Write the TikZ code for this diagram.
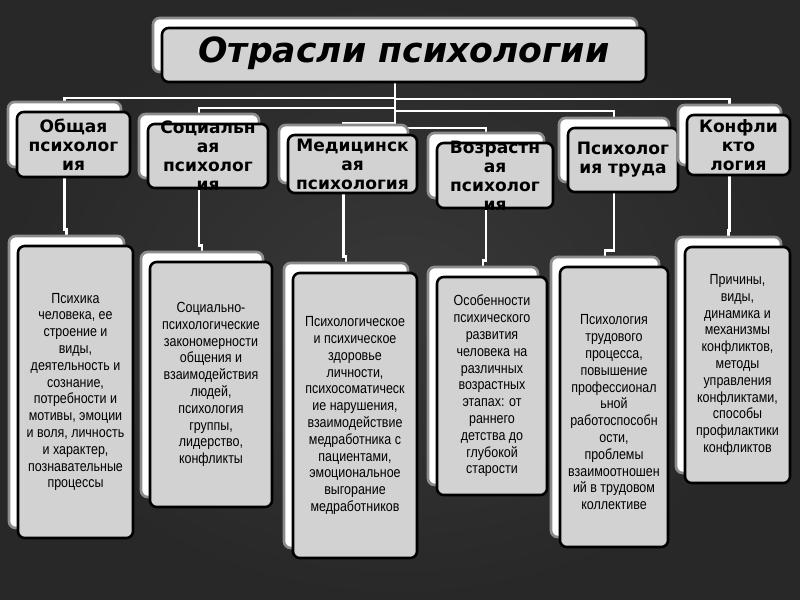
\documentclass[tikz,border=0pt]{standalone}
\usepackage{fontspec}
\setmainfont{DejaVu Sans}
\newfontfamily\descfont{Liberation Sans}[FakeStretch=0.85]
\usetikzlibrary{backgrounds}
\definecolor{boardlight}{RGB}{56,56,56}
\definecolor{boarddark}{RGB}{40,40,40}
\definecolor{boxgray}{RGB}{210,210,210}
\definecolor{rimgray}{RGB}{140,140,140}

\begin{document}
\begin{tikzpicture}[
  x=0.75pt, y=-0.75pt,
  plate/.style={draw=rimgray, line width=2pt, fill=white, rounded corners=5pt, inner sep=0pt},
  panel/.style={draw=black, line width=1.9pt, fill=boxgray, rounded corners=5pt, inner sep=0pt},
  titletext/.style={font=\fontsize{26}{30}\selectfont\bfseries\itshape},
  cattext/.style={font=\fontsize{12.8}{14.2}\selectfont\bfseries, align=center, inner sep=0pt},
  desctext/.style={font=\descfont\fontsize{11}{12.6}\selectfont, align=center, inner sep=0pt},
  link/.style={draw=white, line width=2.2pt}
]
  \useasboundingbox (0,0) rectangle (800,600);

  % title
  \node[plate, minimum width=484*0.75pt, minimum height=54*0.75pt] (titlep) at (395,45) {};
  \node[panel, minimum width=484*0.75pt, minimum height=54*0.75pt] (title) at (404,55) {};
  \node[titletext] (titlet) at ([yshift=1pt]title) {Отрасли психологии};

  % branch boxes
  \foreach \i/\x/\y/\w/\h in {1/73.5/144.5/113/65, 2/208/156/120/64, 3/352.5/164/129/58,
      4/495/175.5/116/65, 5/623/160/110/64, 6/738.5/145/103/60}{
    \node[plate, minimum width=\w*0.75pt, minimum height=\h*0.75pt] (catp\i) at (\x-9,\y-10) {};
    \node[panel, minimum width=\w*0.75pt, minimum height=\h*0.75pt] (cat\i) at (\x,\y) {};
  }

  % description boxes
  \foreach \i/\x/\y/\w/\h in {1/75.5/392/115/292, 2/211/384.5/122/245, 3/355/415.5/124/285,
      4/492/386/110/218, 5/614/407/108/280, 6/737.5/365/105/236}{
    \node[plate, minimum width=\w*0.75pt, minimum height=\h*0.75pt] (descp\i) at (\x-9,\y-10) {};
    \node[panel, minimum width=\w*0.75pt, minimum height=\h*0.75pt] (desc\i) at (\x,\y) {};
  }

  \node[cattext] (cat1t) at (cat1) {Общая\\психолог\\ия};
  \node[cattext] (cat2t) at (cat2) {Социальн\\ая\\психолог\\ия};
  \node[cattext] (cat3t) at (cat3) {Медицинск\\ая\\психология};
  \node[cattext] (cat4t) at (cat4) {Возрастн\\ая\\психолог\\ия};
  \node[cattext] (cat5t) at (cat5) {Психолог\\ия труда};
  \node[cattext] (cat6t) at (cat6) {Конфли\\кто\\логия};

  \node[desctext] (desc1t) at (desc1) {Психика\\человека, ее\\строение и\\виды,\\деятельность и\\сознание,\\потребности и\\мотивы, эмоции\\и воля, личность\\и характер,\\познавательные\\процессы};
  \node[desctext] (desc2t) at (desc2) {Социально-\\психологические\\закономерности\\общения и\\взаимодействия\\людей,\\психология\\группы,\\лидерство,\\конфликты};
  \node[desctext] (desc3t) at (desc3) {Психологическое\\и психическое\\здоровье\\личности,\\психосоматическ\\ие нарушения,\\взаимодействие\\медработника с\\пациентами,\\эмоциональное\\выгорание\\медработников};
  \node[desctext] (desc4t) at (desc4) {Особенности\\психического\\развития\\человека на\\различных\\возрастных\\этапах: от\\раннего\\детства до\\глубокой\\старости};
  \node[desctext] (desc5t) at ([yshift=-4pt]desc5) {Психология\\трудового\\процесса,\\повышение\\профессионал\\ьной\\работоспособн\\ости,\\проблемы\\взаимоотношен\\ий в трудовом\\коллективе};
  \node[desctext] (desc6t) at (desc6) {Причины,\\виды,\\динамика и\\механизмы\\конфликтов,\\методы\\управления\\конфликтами,\\способы\\профилактики\\конфликтов};

  % board and connectors behind the boxes
  \begin{scope}[on background layer]
    \fill[inner color=boardlight, outer color=boarddark] (0,0) rectangle (800,600);
    \foreach \i/\y in {1/98, 2/108, 3/123, 4/128, 5/111, 6/99}
      \draw[link] (titlep.south) -- (titlep.south |- 0,\y) -| (catp\i.north);
    \foreach \i in {1,...,6}
      \draw[link] (catp\i.south) |- ([yshift=4pt]descp\i.north) -- (descp\i.north);
  \end{scope}
\end{tikzpicture}
\end{document}
